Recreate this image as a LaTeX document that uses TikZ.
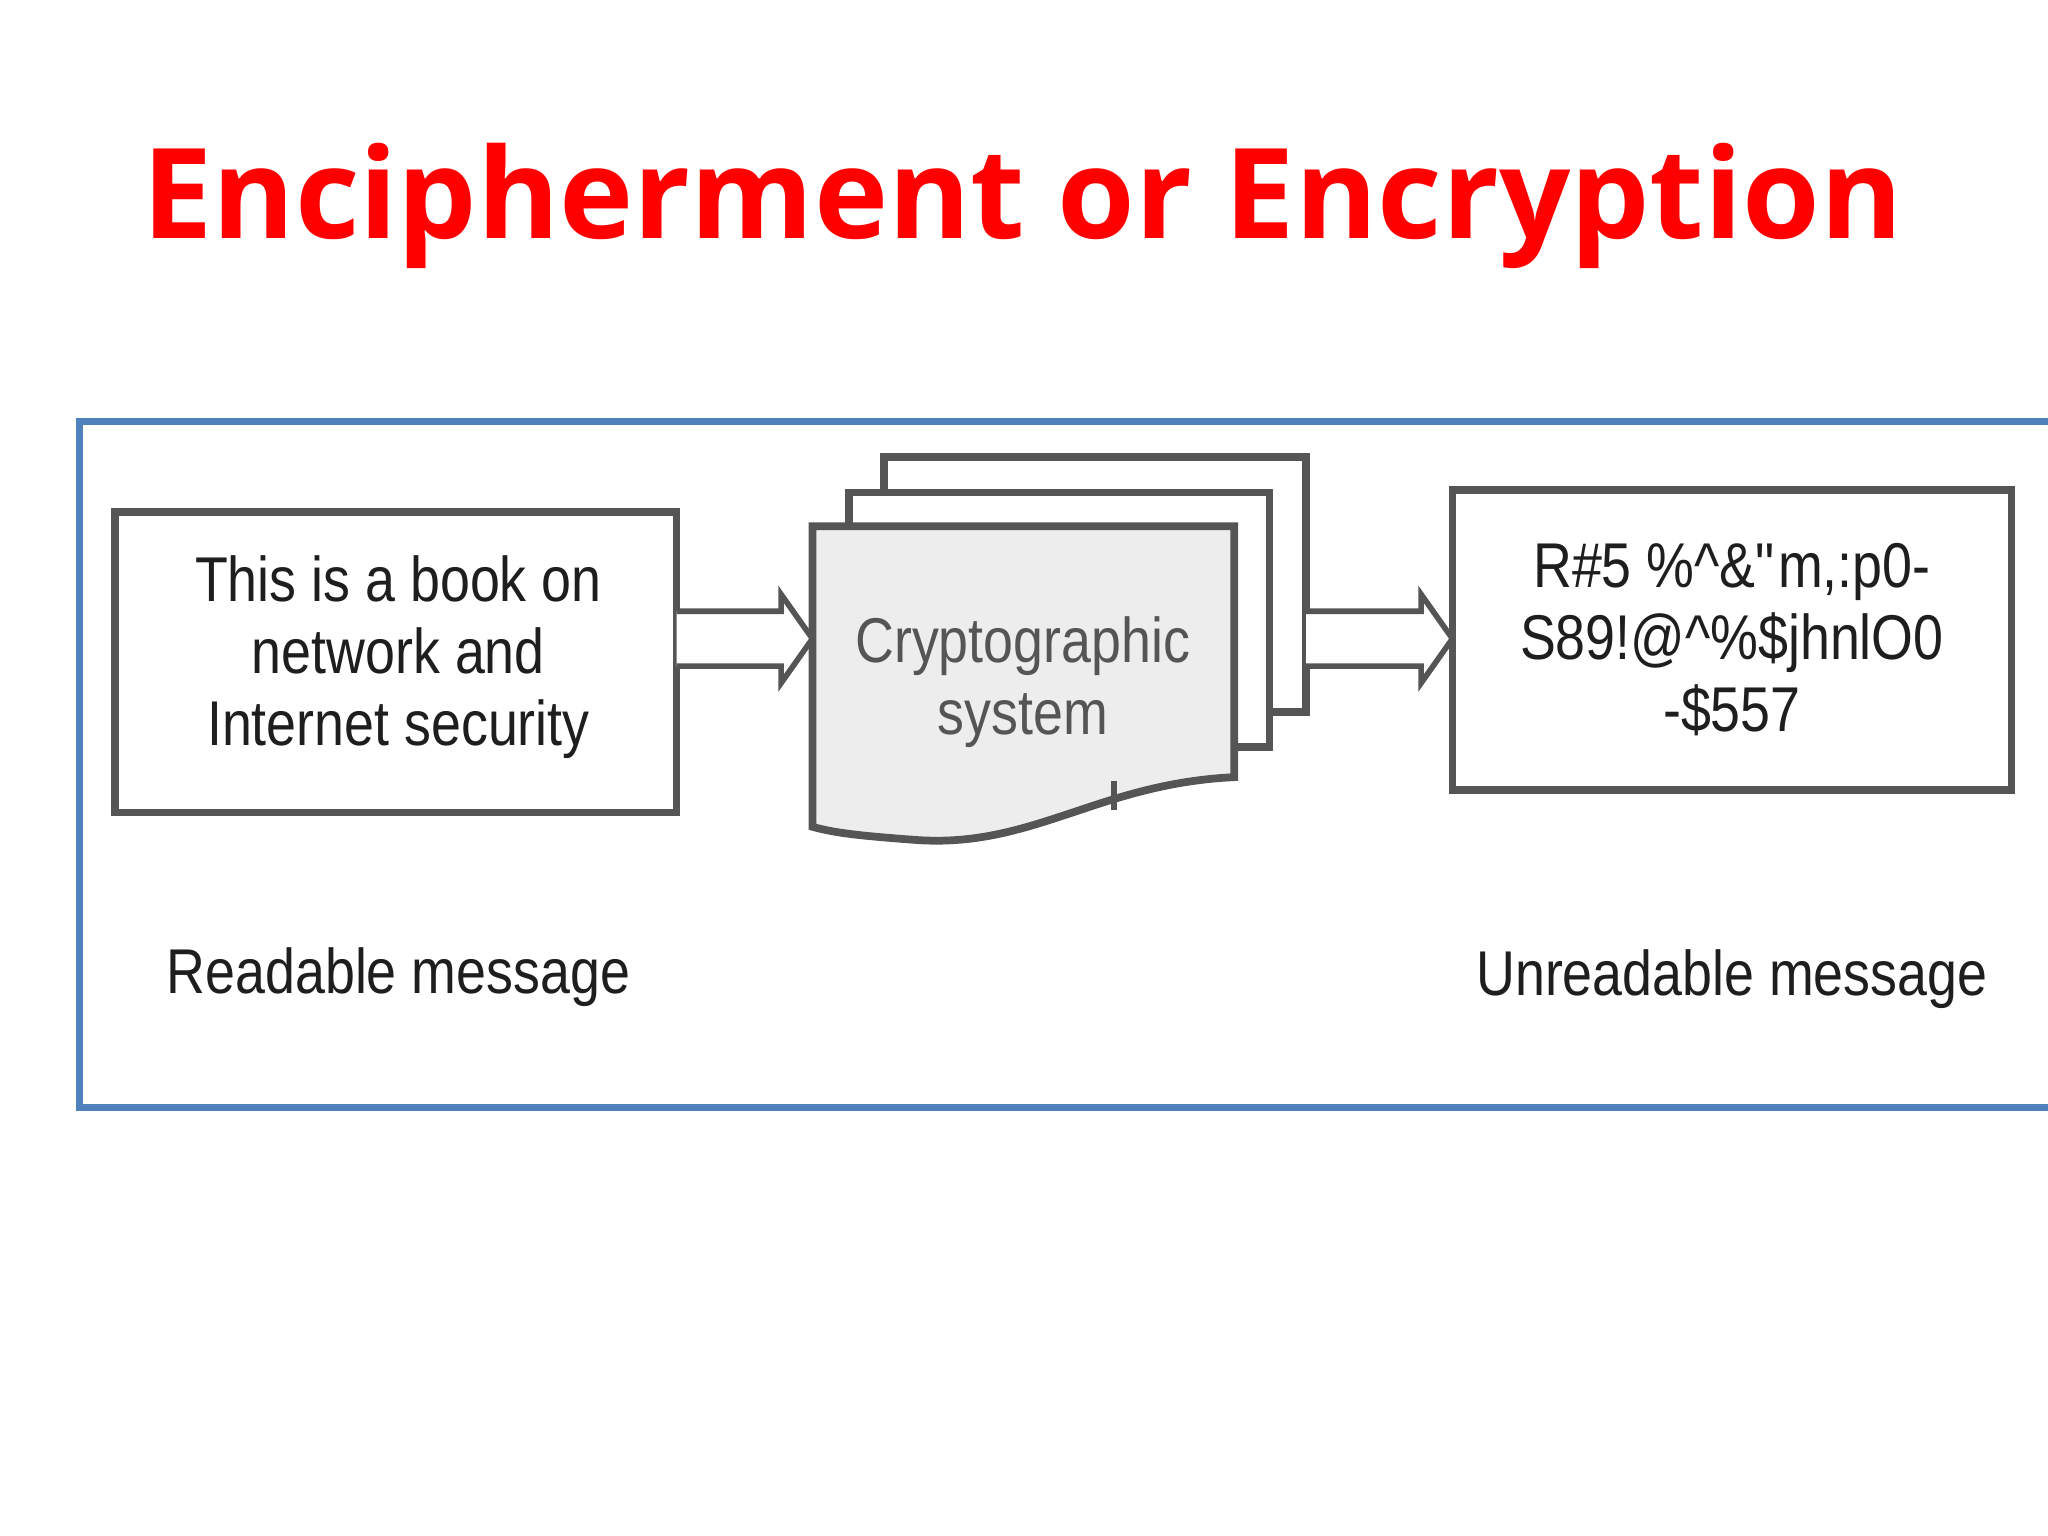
\documentclass[tikz,border=0pt]{standalone}
\usepackage{fontspec}
\setmainfont{Liberation Sans}[FakeStretch=0.85]
\newfontfamily\titlefont{Open Sans}
\definecolor{frameblue}{RGB}{79,129,189}
\definecolor{ln}{RGB}{85,85,85}
\definecolor{tx}{RGB}{30,30,30}
\begin{document}
\begin{tikzpicture}[x=0.013061cm,y=-0.013061cm,
  box/.style={draw=ln,line width=2.2pt},
  arr/.style={draw=ln,line width=1.6pt,fill=white,line join=miter},
  txt/.style={font=\fontsize{18}{20.5}\selectfont,text=tx,align=center}]
\useasboundingbox (0,0) rectangle (1568,1176);
\fill[white] (0,0) rectangle (1568,1176);
\node (title) at (783,158) {\titlefont\bfseries\fontsize{35.7}{42}\selectfont\color{red} Encipherment or Encryption};
\draw[frameblue,line width=2pt] (1575,323) -- (61,323) -- (61,848) -- (1575,848);
% left box
\draw[box] (88,392) rectangle (518,622);
\node[txt] (left) at (305,503) {This is a book on\\network and\\Internet security};
% stack
\draw[box,fill=white] (677,350) rectangle (1000,545);
\draw[box,fill=white] (650,377) rectangle (972,572);
\draw[box,fill=white!93!black] (622,403) -- (945,403) -- (945,595) .. controls (840,600) and (790,650) .. (700,643) .. controls (660,640) and (640,638) .. (622,633) -- cycle;
\draw[ln,line width=1.5pt] (853,598) -- (853,620);
\node[txt,text=ln] (crypt) at (783,522) {Cryptographic\\system};
% right box
\draw[box] (1112,375) rectangle (1540,605);
\node[txt] (right) at (1326,490) {R\#5 \%\^{}\&\textquotedbl m,:p0-\\S89!@\^{}\%\$jhnlO0\\-\$557};
% arrows
\coordinate (a1s) at (518,489);
\draw[arr] (a1s) ++(0,-21) -- (598,468) -- (598,455) -- (622,489) -- (598,523) -- (598,510) -- (518,510);
\coordinate (a2s) at (1000,489);
\draw[arr] (a2s) ++(0,-21) -- (1088,468) -- (1088,455) -- (1112,489) -- (1088,523) -- (1088,510) -- (1000,510);
\node[txt] (rm) at (305,748) {Readable message};
\node[txt] (um) at (1326,750) {Unreadable message};
\end{tikzpicture}
\end{document}
